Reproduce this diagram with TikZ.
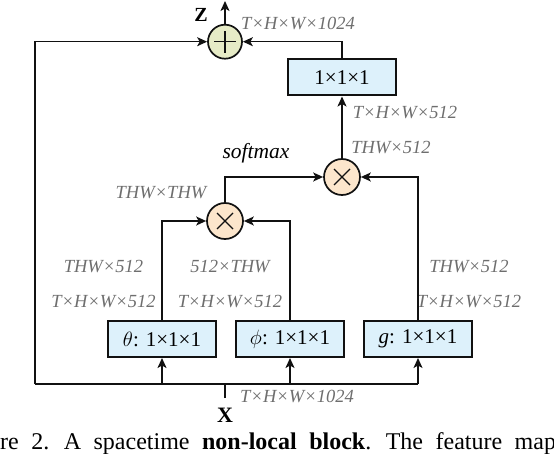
\documentclass[tikz,border=0pt]{standalone}
\usepackage{fontspec}
\setmainfont{Liberation Serif}
\usepackage{tikz}
\usetikzlibrary{positioning,arrows.meta}
\definecolor{LineDark}{HTML}{111111}
\definecolor{DimGray}{HTML}{6E6E6E}
\definecolor{ConvFill}{HTML}{DDF1FB}
\definecolor{SumFill}{HTML}{E6EBC6}
\definecolor{MulFill}{HTML}{FCE6CC}

\begin{document}
\begin{tikzpicture}[
    x=1pt, y=-1pt,
    conv/.style={rectangle, draw=LineDark, fill=ConvFill, line width=2pt, minimum width=108pt, minimum height=36pt, inner sep=0pt, align=center, font=\fontsize{21}{24}\selectfont},
    sumop/.style={circle, draw=LineDark, fill=SumFill, line width=1.7pt, minimum size=34pt, inner sep=0pt,
      path picture={\draw[line width=1.3pt] ([xshift=-11pt]path picture bounding box.center) -- ([xshift=11pt]path picture bounding box.center);
                    \draw[line width=1.3pt] ([yshift=-11pt]path picture bounding box.center) -- ([yshift=11pt]path picture bounding box.center);}},
    mulop/.style={circle, draw=LineDark, fill=MulFill, line width=1.7pt, minimum size=36pt, inner sep=0pt,
      path picture={\draw[line width=1.3pt] ([shift={(-8pt,-8pt)}]path picture bounding box.center) -- ([shift={(8pt,8pt)}]path picture bounding box.center);
                    \draw[line width=1.3pt] ([shift={(-8pt,8pt)}]path picture bounding box.center) -- ([shift={(8pt,-8pt)}]path picture bounding box.center);}},
    dim/.style={font=\fontsize{18.5}{21}\selectfont\itshape, text=DimGray, inner sep=0pt},
    tag/.style={font=\fontsize{20}{22}\selectfont\bfseries, inner sep=0pt},
    line/.style={line width=1.5pt, LineDark},
    arrow/.style={line, -{Stealth[length=10pt, width=9pt, inset=2.5pt]}}
  ]
    \useasboundingbox (0,0) rectangle (554,454);

    % Sum and output
    \node (plus) [sumop] at (225,41.7) {};
    \coordinate (zout) at (225,1);
    \node (ztag) [tag] at (201,15) {Z};
    \node (zdim) [dim] at (298,23) {T×H×W×1024};

    % Output conv
    \node (wz) [conv] at (342,77.5) {1×1×1};
    \node (wzdim) [dim] at (405,113) {T×H×W×512};

    % Products
    \node (mul2) [mulop] at (342,177) {};
    \node (mul2dim) [dim] at (391,148) {THW×512};
    \node (smax) [font=\fontsize{21.5}{24}\selectfont\itshape, inner sep=0pt] at (256,153) {softmax};
    \node (mul1) [mulop] at (225,221) {};
    \node (mul1dim) [dim] at (161,193) {THW×THW};

    % Input convs
    \node (theta) [conv] at (162,339) {$\theta$: 1×1×1};
    \node (phi) [conv, right=18pt of theta] {$\phi$: 1×1×1};
    \node (g) [conv, right=18pt of phi] {\textit{g}: 1×1×1};

    % Shape labels
    \node (thetaflat) [dim] at (103.5,267) {THW×512};
    \node (thetadim) [dim] at (103.5,302) {T×H×W×512};
    \node (phiflat) [dim] at (230,267) {512×THW};
    \node (phidim) [dim] at (230,302) {T×H×W×512};
    \node (gflat) [dim] at (469,267) {THW×512};
    \node (gdim) [dim] at (469,302) {T×H×W×512};

    % Input
    \coordinate (xin) at (225,398);
    \coordinate (split) at (225,384);
    \coordinate (skip) at (35,384);
    \node (xtag) [tag, font=\fontsize{22}{24}\selectfont\bfseries] at (225,415) {X};
    \node (xdim) [dim] at (297,396) {T×H×W×1024};

    % Connections
    \draw [line] (xin) -- (split);
    \draw [line] (skip) -- (split -| g.south);
    \draw [arrow] (split -| theta.south) -- (theta.south);
    \draw [arrow] (split -| phi.south) -- (phi.south);
    \draw [arrow] (split -| g.south) -- (g.south);
    \draw [arrow] (theta.north) |- (mul1.west);
    \draw [arrow] (phi.north) |- (mul1.east);
    \draw [arrow] (mul1.north) |- (mul2.west);
    \draw [arrow] (g.north) |- (mul2.east);
    \draw [arrow] (mul2.north) -- (wz.south);
    \draw [arrow] (wz.north) |- (plus.east);
    \draw [arrow] (skip) |- (plus.west);
    \draw [arrow] (plus.north) -- (zout);

    % Caption (cut by the page)
    \node (caption) [anchor=base west, inner sep=0pt, font=\fontsize{24}{27}\selectfont] at (0,449)
      {\spaceskip=12.5pt\llap{Figu}re 2. A spacetime \textbf{non-local block}. The feature map\rlap{s}};
\end{tikzpicture}
\end{document}
